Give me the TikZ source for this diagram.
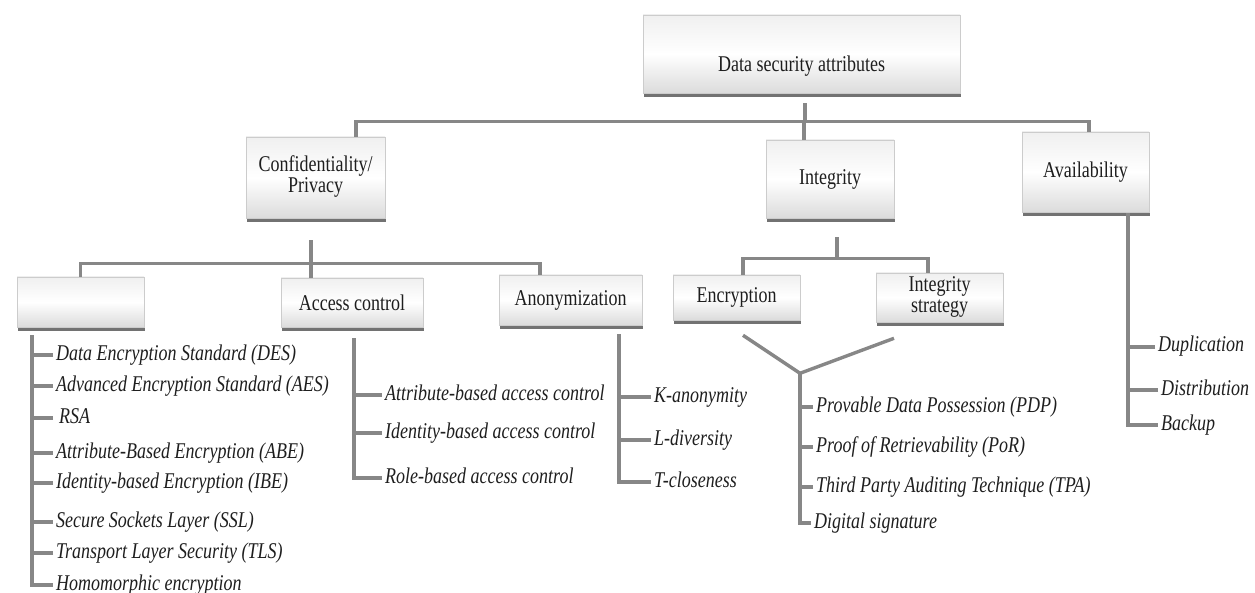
\documentclass[tikz,border=0pt]{standalone}
\usepackage{fontspec}
\setmainfont{Liberation Serif}
\usepackage{graphicx}
\usetikzlibrary{calc,shadows}
\definecolor{ln}{RGB}{135,135,135}
\definecolor{tx}{RGB}{30,30,30}
\newcommand{\vs}[1]{\scalebox{1}[1.25]{#1}}
\newcommand{\vsb}[1]{\scalebox{1}[1.25]{\renewcommand{\arraystretch}{0.8}\begin{tabular}{@{}c@{}}#1\end{tabular}}}
\begin{document}
\begin{tikzpicture}[x=1pt,y=-1pt,
  font=\fontsize{18}{21}\selectfont, text=tx,
  box/.style={rectangle, draw=gray!40, line width=0.6pt,
    top color=gray!12, bottom color=gray!28, middle color=white,
    drop shadow={shadow xshift=1pt, shadow yshift=-4pt, fill=black!65, opacity=0.85},
    inner sep=0pt, align=center},
  conn/.style={draw=ln, line width=3.4pt},
  item/.style={anchor=west, inner xsep=3pt, inner ysep=0pt, text height=15pt, text depth=5pt,
    font=\fontsize{18}{21}\selectfont\itshape}]
\useasboundingbox (0,0) rectangle (1255,593);

% boxes
\node[box, minimum width=317pt, minimum height=78pt, text height=36pt, text depth=0pt] (top) at (801.5,54) {\vs{Data security attributes}};
\node[box, minimum width=139pt, minimum height=81pt] (conf) at (315.5,177.5) {\vsb{Confidentiality/\\Privacy}};
\node[box, minimum width=128pt, minimum height=78pt] (integ) at (830,179) {\vs{Integrity}};
\node[box, minimum width=127pt, minimum height=80pt] (avail) at (1085.5,172) {\vs{Availability}};
\node[box, minimum width=127pt, minimum height=50pt] (empty) at (80.5,302) {};
\node[box, minimum width=142pt, minimum height=49pt] (access) at (352,302.5) {\vs{Access control}};
\node[box, minimum width=143pt, minimum height=50pt] (anon) at (570.5,300) {\vs{Anonymization}};
\node[box, minimum width=127pt, minimum height=45pt] (enc) at (736.5,297.5) {\vs{Encryption}};
\node[box, minimum width=127pt, minimum height=49pt] (istrat) at (939.5,297.5) {\vsb{Integrity\\strategy}};

% level 1 connectors
\draw[conn] ($(top.south)+(3.5,10)$) -- ($(top.south)+(3.5,29)$);
\draw[conn] ($(conf.north)+(40.5,0)$) |- ($(avail.north)+(3.5,-10)$) -- ($(avail.north)+(3.5,0)$);
\draw[conn] ($(integ.north)+(-26,-18)$) -- ($(integ.north)+(-26,0)$);

% level 2 under confidentiality
\draw[conn] ($(conf.south)+(-4.5,22)$) -- ($(access.north)+(-41,0)$);
\draw[conn] (empty.north) -- ++(0,-13) -| ($(anon.north)+(-30.5,0)$);

% level 2 under integrity
\draw[conn] ($(integ.south)+(7,19)$) -- ($(integ.south)+(7,41)$);
\draw[conn] ($(enc.north)+(6.5,0)$) |- ($(istrat.north)+(-11.5,-14)$) -- ($(istrat.north)+(-11.5,0)$);

% encryption list
\node[item] (e1) at (53,355) {\vs{Data Encryption Standard (DES)}};
\node[item] (e2) at (53,386) {\vs{Advanced Encryption Standard (AES)}};
\node[item] (e3) at (56,418) {\vs{RSA}};
\node[item] (e4) at (53,453) {\vs{Attribute-Based Encryption (ABE)}};
\node[item] (e5) at (53,483) {\vs{Identity-based Encryption (IBE)}};
\node[item] (e6) at (53,522) {\vs{Secure Sockets Layer (SSL)}};
\node[item] (e7) at (53,553) {\vs{Transport Layer Security (TLS)}};
\node[item] (e8) at (53,585) {\vs{Homomorphic encryption}};
\coordinate (ev) at ($(empty.south)+(-48.5,8)$);
\draw[conn] (ev) |- (e8.west);
\foreach \n in {e1,e2,e4,e5,e6,e7} \draw[conn] (\n.west) -- (\n.west -| ev);
\draw[conn] ($(e3.west)+(-3,0)$) -- (e3.west -| ev);

% access control list
\node[item] (a1) at (382,395) {\vs{Attribute-based access control}};
\node[item] (a2) at (382,433) {\vs{Identity-based access control}};
\node[item] (a3) at (382,478) {\vs{Role-based access control}};
\coordinate (av) at ($(access.south)+(2,11)$);
\draw[conn] (av) |- (a3.west);
\foreach \n in {a1,a2} \draw[conn] (\n.west) -- (\n.west -| av);

% anonymization list
\node[item] (n1) at (651,397) {\vs{K-anonymity}};
\node[item] (n2) at (651,440) {\vs{L-diversity}};
\node[item] (n3) at (651,482) {\vs{T-closeness}};
\coordinate (nv) at ($(anon.south)+(48.5,9)$);
\draw[conn] (nv) |- (n3.west);
\foreach \n in {n1,n2} \draw[conn] (\n.west) -- (\n.west -| nv);

% integrity list
\coordinate (apex) at ($(enc.south)+(63.5,53)$);
\draw[conn] ($(enc.south)+(6.5,15)$) -- (apex) -- ($(istrat.south)+(-45.5,16)$);
\node[item] (i1) at (813,407) {\vs{Provable Data Possession (PDP)}};
\node[item] (i2) at (813,447) {\vs{Proof of Retrievability (PoR)}};
\node[item] (i3) at (813,487) {\vs{Third Party Auditing Technique (TPA)}};
\node[item] (i4) at (811,523) {\vs{Digital signature}};
\draw[conn] (apex) |- (i4.west);
\foreach \n in {i1,i2,i3} \draw[conn] (\n.west) -- (\n.west -| apex);

% availability list
\node[item] (v1) at (1155,347) {\vs{Duplication}};
\node[item] (v2) at (1158,390) {\vs{Distribution}};
\node[item] (v3) at (1158,425) {\vs{Backup}};
\coordinate (vv) at ($(avail.south)+(42.5,1)$);
\draw[conn] (vv) |- (v3.west);
\foreach \n in {v1,v2} \draw[conn] (\n.west) -- (\n.west -| vv);
\end{tikzpicture}
\end{document}
